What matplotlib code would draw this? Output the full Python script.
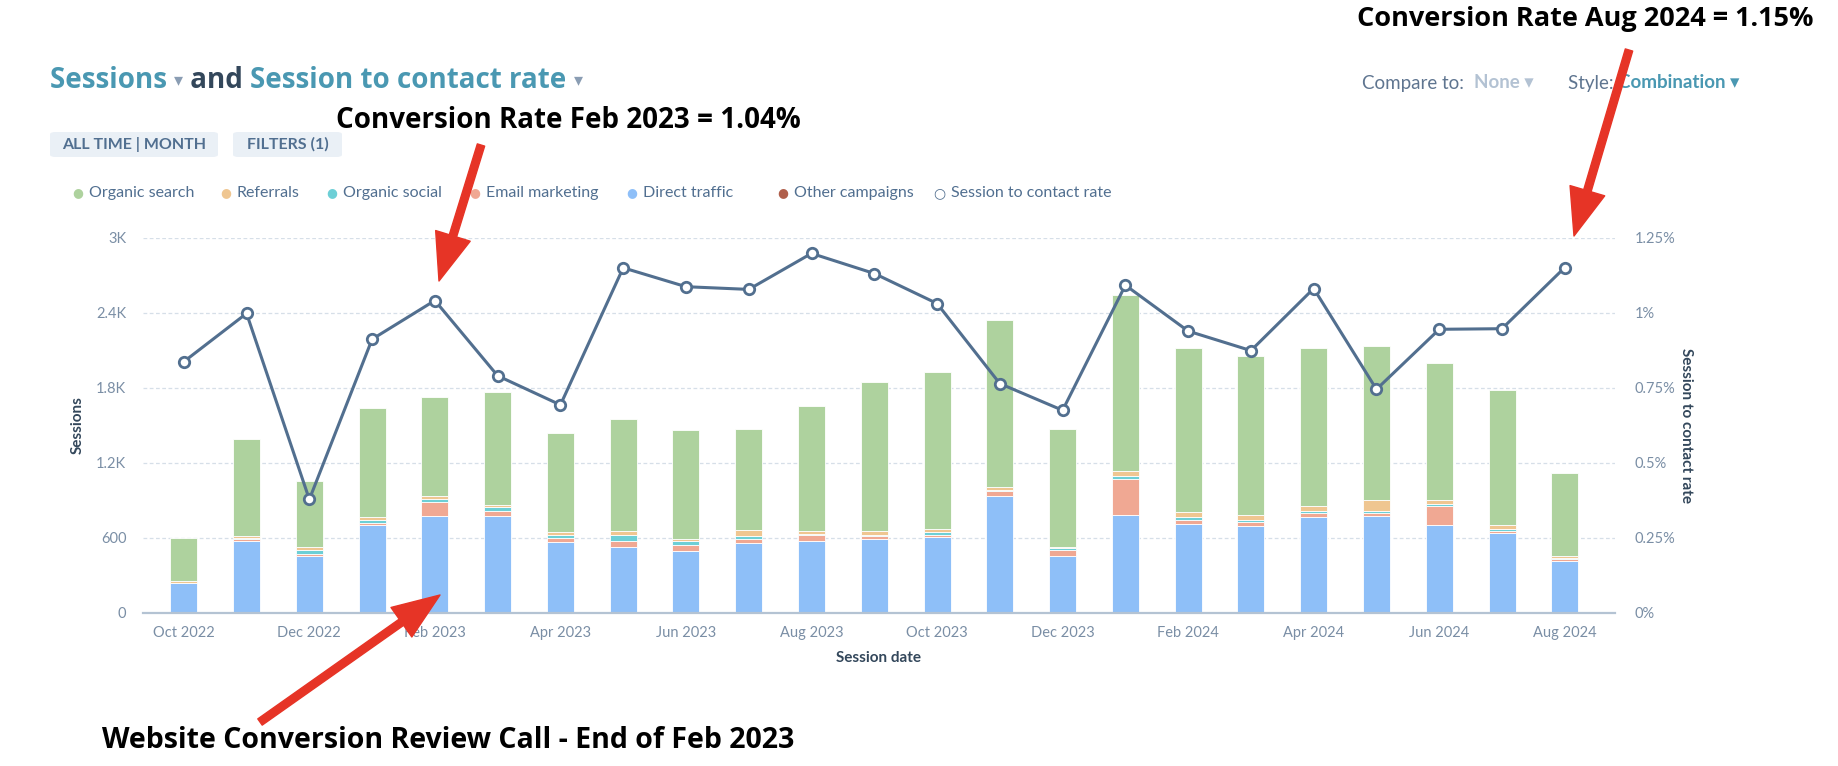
import matplotlib
matplotlib.use("Agg")
import matplotlib.pyplot as plt
from matplotlib.patches import FancyArrowPatch, FancyBboxPatch
import numpy as np

# --- data ---
months = ['Oct 2022', 'Nov 2022', 'Dec 2022', 'Jan 2023', 'Feb 2023', 'Mar 2023',
          'Apr 2023', 'May 2023', 'Jun 2023', 'Jul 2023', 'Aug 2023', 'Sep 2023',
          'Oct 2023', 'Nov 2023', 'Dec 2023', 'Jan 2024', 'Feb 2024', 'Mar 2024',
          'Apr 2024', 'May 2024', 'Jun 2024', 'Jul 2024', 'Aug 2024']
direct_traffic = [240, 573, 453, 700, 775, 775, 562, 522, 493, 554, 570, 589,
                  602, 932, 453, 781, 711, 693, 762, 773, 703, 634, 413]
other_campaigns = [0, 0, 0, 0, 0, 0, 0, 0, 0, 0, 0, 0,
                   0, 0, 0, 0, 0, 0, 0, 0, 0, 0, 0]
email_marketing = [0, 15, 16, 13, 107, 37, 37, 48, 48, 35, 51, 24,
                   19, 40, 48, 290, 32, 29, 37, 21, 152, 19, 13]
organic_social = [0, 10, 32, 27, 29, 29, 21, 51, 32, 24, 5, 11,
                  21, 11, 13, 24, 19, 21, 13, 21, 11, 13, 11]
referrals = [13, 15, 21, 21, 21, 19, 21, 29, 16, 48, 24, 27,
             27, 19, 8, 37, 40, 40, 43, 88, 37, 37, 16]
organic_search = [341, 778, 530, 872, 789, 901, 792, 900, 874, 810, 1002, 1190,
                  1252, 1342, 949, 1409, 1311, 1268, 1258, 1231, 1090, 1079, 661]
contact_rate = [0.836, 0.997, 0.377, 0.911, 1.04, 0.789, 0.692, 1.149, 1.086, 1.077,
                1.197, 1.130, 1.030, 0.763, 0.674, 1.091, 0.938, 0.873, 1.080, 0.744,
                0.944, 0.946, 1.15]

left_ticks = [0, 600, 1200, 1800, 2400, 3000]
left_labels = ['0', '600', '1.2K', '1.8K', '2.4K', '3K']
right_ticks = [0, 0.25, 0.5, 0.75, 1.0, 1.25]
right_labels = ['0%', '0.25%', '0.5%', '0.75%', '1%', '1.25%']

# colours
C_SEARCH = '#aed29e'
C_REF = '#efc691'
C_SOCIAL = '#6dcfd6'
C_EMAIL = '#f0a893'
C_DIRECT = '#8ebff8'
C_OTHER = '#b05f4b'
C_LINE = '#526f8f'
C_TEAL = '#4a98b2'
C_NAVY = '#33475b'
C_TICK = '#7a8ea5'
C_RED = '#e63426'

UI = 'Lato'
W, H = 1838, 766
fig = plt.figure(figsize=(W / 100, H / 100), dpi=100)
ax = fig.add_axes([143 / W, 1 - 612.5 / H, (1615 - 143) / W, (612.5 - 237.5) / H])

x = np.arange(len(months))
bw = 0.43
stack = [(direct_traffic, C_DIRECT), (other_campaigns, C_OTHER), (email_marketing, C_EMAIL),
         (organic_social, C_SOCIAL), (referrals, C_REF), (organic_search, C_SEARCH)]
bottom = np.zeros(len(months))
for vals, col in stack:
    ax.bar(x, vals, bw, bottom=bottom, color=col, edgecolor='white', linewidth=0.6, zorder=2)
    bottom += np.array(vals)

ax.set_xlim(-0.65, len(months) - 1 + 0.8)
ax.set_ylim(0, 3000)
ax.set_yticks(left_ticks)
ax.set_yticklabels(left_labels, fontsize=10.5, color=C_TICK, family=UI)
ax.set_xticks(x[::2])
ax.set_xticklabels(months[::2], fontsize=10.5, color=C_TICK, family=UI)
ax.tick_params(axis='both', length=0, pad=12)
ax.tick_params(axis='x', pad=10)
for s in ['top', 'right', 'left']:
    ax.spines[s].set_visible(False)
ax.spines['bottom'].set_color('#b4c3d3')
ax.spines['bottom'].set_linewidth(1.6)
ax.spines['bottom'].set_zorder(4)
for t in left_ticks[1:]:
    ax.axhline(t, color='#d6dfe8', linestyle=(0, (3, 2)), linewidth=0.9, zorder=1)
ax.set_ylabel('Sessions', fontsize=11, fontweight='bold', color=C_NAVY, family=UI, labelpad=8)
ax.set_xlabel('Session date', fontsize=11, fontweight='bold', color=C_NAVY, family=UI, labelpad=8)

ax2 = ax.twinx()
ax2.plot(x, contact_rate, color=C_LINE, linewidth=2.2, marker='o', markersize=7.5,
         markerfacecolor='white', markeredgecolor=C_LINE, markeredgewidth=2, zorder=5)
ax2.set_ylim(0, 1.25)
ax2.set_yticks(right_ticks)
ax2.set_yticklabels(right_labels, fontsize=10.5, color=C_TICK, family=UI)
ax2.tick_params(axis='y', length=0, pad=14)
for s in ax2.spines.values():
    s.set_visible(False)
ax2.set_ylabel('Session to contact rate', fontsize=11, fontweight='bold', color=C_NAVY,
               family=UI, rotation=270, labelpad=13)


def row(parts, x0, y0, size, font=UI, gap=0):
    # draw text pieces one after another on one baseline (figure pixels)
    fig.canvas.draw()
    r = fig.canvas.get_renderer()
    xx = x0
    for txt, col, w, sz in parts:
        t = fig.text(xx / W, 1 - y0 / H, txt, fontsize=sz or size, color=col, fontweight=w,
                     family=[font, 'DejaVu Sans'], va='center', ha='left')
        xx = t.get_window_extent(r).x1 + gap


# header
row([('Sessions ', C_TEAL, 'bold', None), ('▾', '#8a9db3', 'normal', 13),
     (' and ', C_NAVY, 'bold', None), ('Session to contact rate ', C_TEAL, 'bold', None),
     ('▾', '#8a9db3', 'normal', 13)], 50, 80, 20, font='Open Sans')
row([('Compare to:  ', '#5f7590', 'normal', None), ('None ▾', '#b3c2d3', 'bold', None)],
    1362, 83, 13.5)
row([('Style: ', '#5f7590', 'normal', None), ('Combination ▾', C_TEAL, 'bold', None)],
    1568, 83, 13.5)

for label, x0, x1 in [('ALL TIME | MONTH', 50, 218), ('FILTERS (1)', 233, 342)]:
    fig.patches.append(FancyBboxPatch((x0 / W, 1 - 157 / H), (x1 - x0) / W, 25 / H,
                                      boxstyle='round,pad=0,rounding_size=0.003',
                                      transform=fig.transFigure, facecolor='#eaf0f6',
                                      edgecolor='none'))
    fig.text((x0 + x1) / 2 / W, 1 - 144 / H, label, fontsize=11.5, fontweight='bold',
             color='#516f90', family=UI, ha='center', va='center')

# legend row
legend_items = [('Organic search', C_SEARCH, 78), ('Referrals', C_REF, 226),
                ('Organic social', C_SOCIAL, 332), ('Email marketing', C_EMAIL, 475),
                ('Direct traffic', C_DIRECT, 632), ('Other campaigns', C_OTHER, 783)]
for name, col, px in legend_items:
    fig.text(px / W, 1 - 193 / H, '●', fontsize=9, color=col, family='DejaVu Sans',
             ha='center', va='center')
    fig.text((px + 11) / W, 1 - 193 / H, name, fontsize=11.5, color='#516f90', family=UI,
             ha='left', va='center')
fig.text(939 / W, 1 - 193 / H, '○', fontsize=10, color=C_LINE, family='DejaVu Sans',
         ha='center', va='center', fontweight='bold')
fig.text(951 / W, 1 - 193 / H, 'Session to contact rate', fontsize=11.5, color='#516f90',
         family=UI, ha='left', va='center')

# annotations
ann_font = ['Open Sans', 'DejaVu Sans']
fig.text(336 / W, 1 - 120 / H, 'Conversion Rate Feb 2023 = 1.04%', fontsize=20,
         fontweight='bold', family=ann_font, color='black', va='center')
fig.text(1357 / W, 1 - 19 / H, 'Conversion Rate Aug 2024 = 1.15%', fontsize=19.5,
         fontweight='bold', family=ann_font, color='black', va='center')
fig.text(102 / W, 1 - 741 / H, 'Website Conversion Review Call - End of Feb 2023', fontsize=20.5,
         fontweight='bold', family=ann_font, color='black', va='center')

for (xa, ya), (xb, yb) in [((481, 145), (439, 281)), ((1629, 50), (1574, 236)),
                           ((260, 722), (440, 595))]:
    arr = FancyArrowPatch((xa / W, 1 - ya / H), (xb / W, 1 - yb / H), transform=fig.transFigure,
                          arrowstyle='simple,head_length=34,head_width=26,tail_width=5.5',
                          mutation_scale=1, color=C_RED, shrinkA=0, shrinkB=0, zorder=10)
    fig.patches.append(arr)

fig.savefig('out.png', dpi=100, facecolor='white')
